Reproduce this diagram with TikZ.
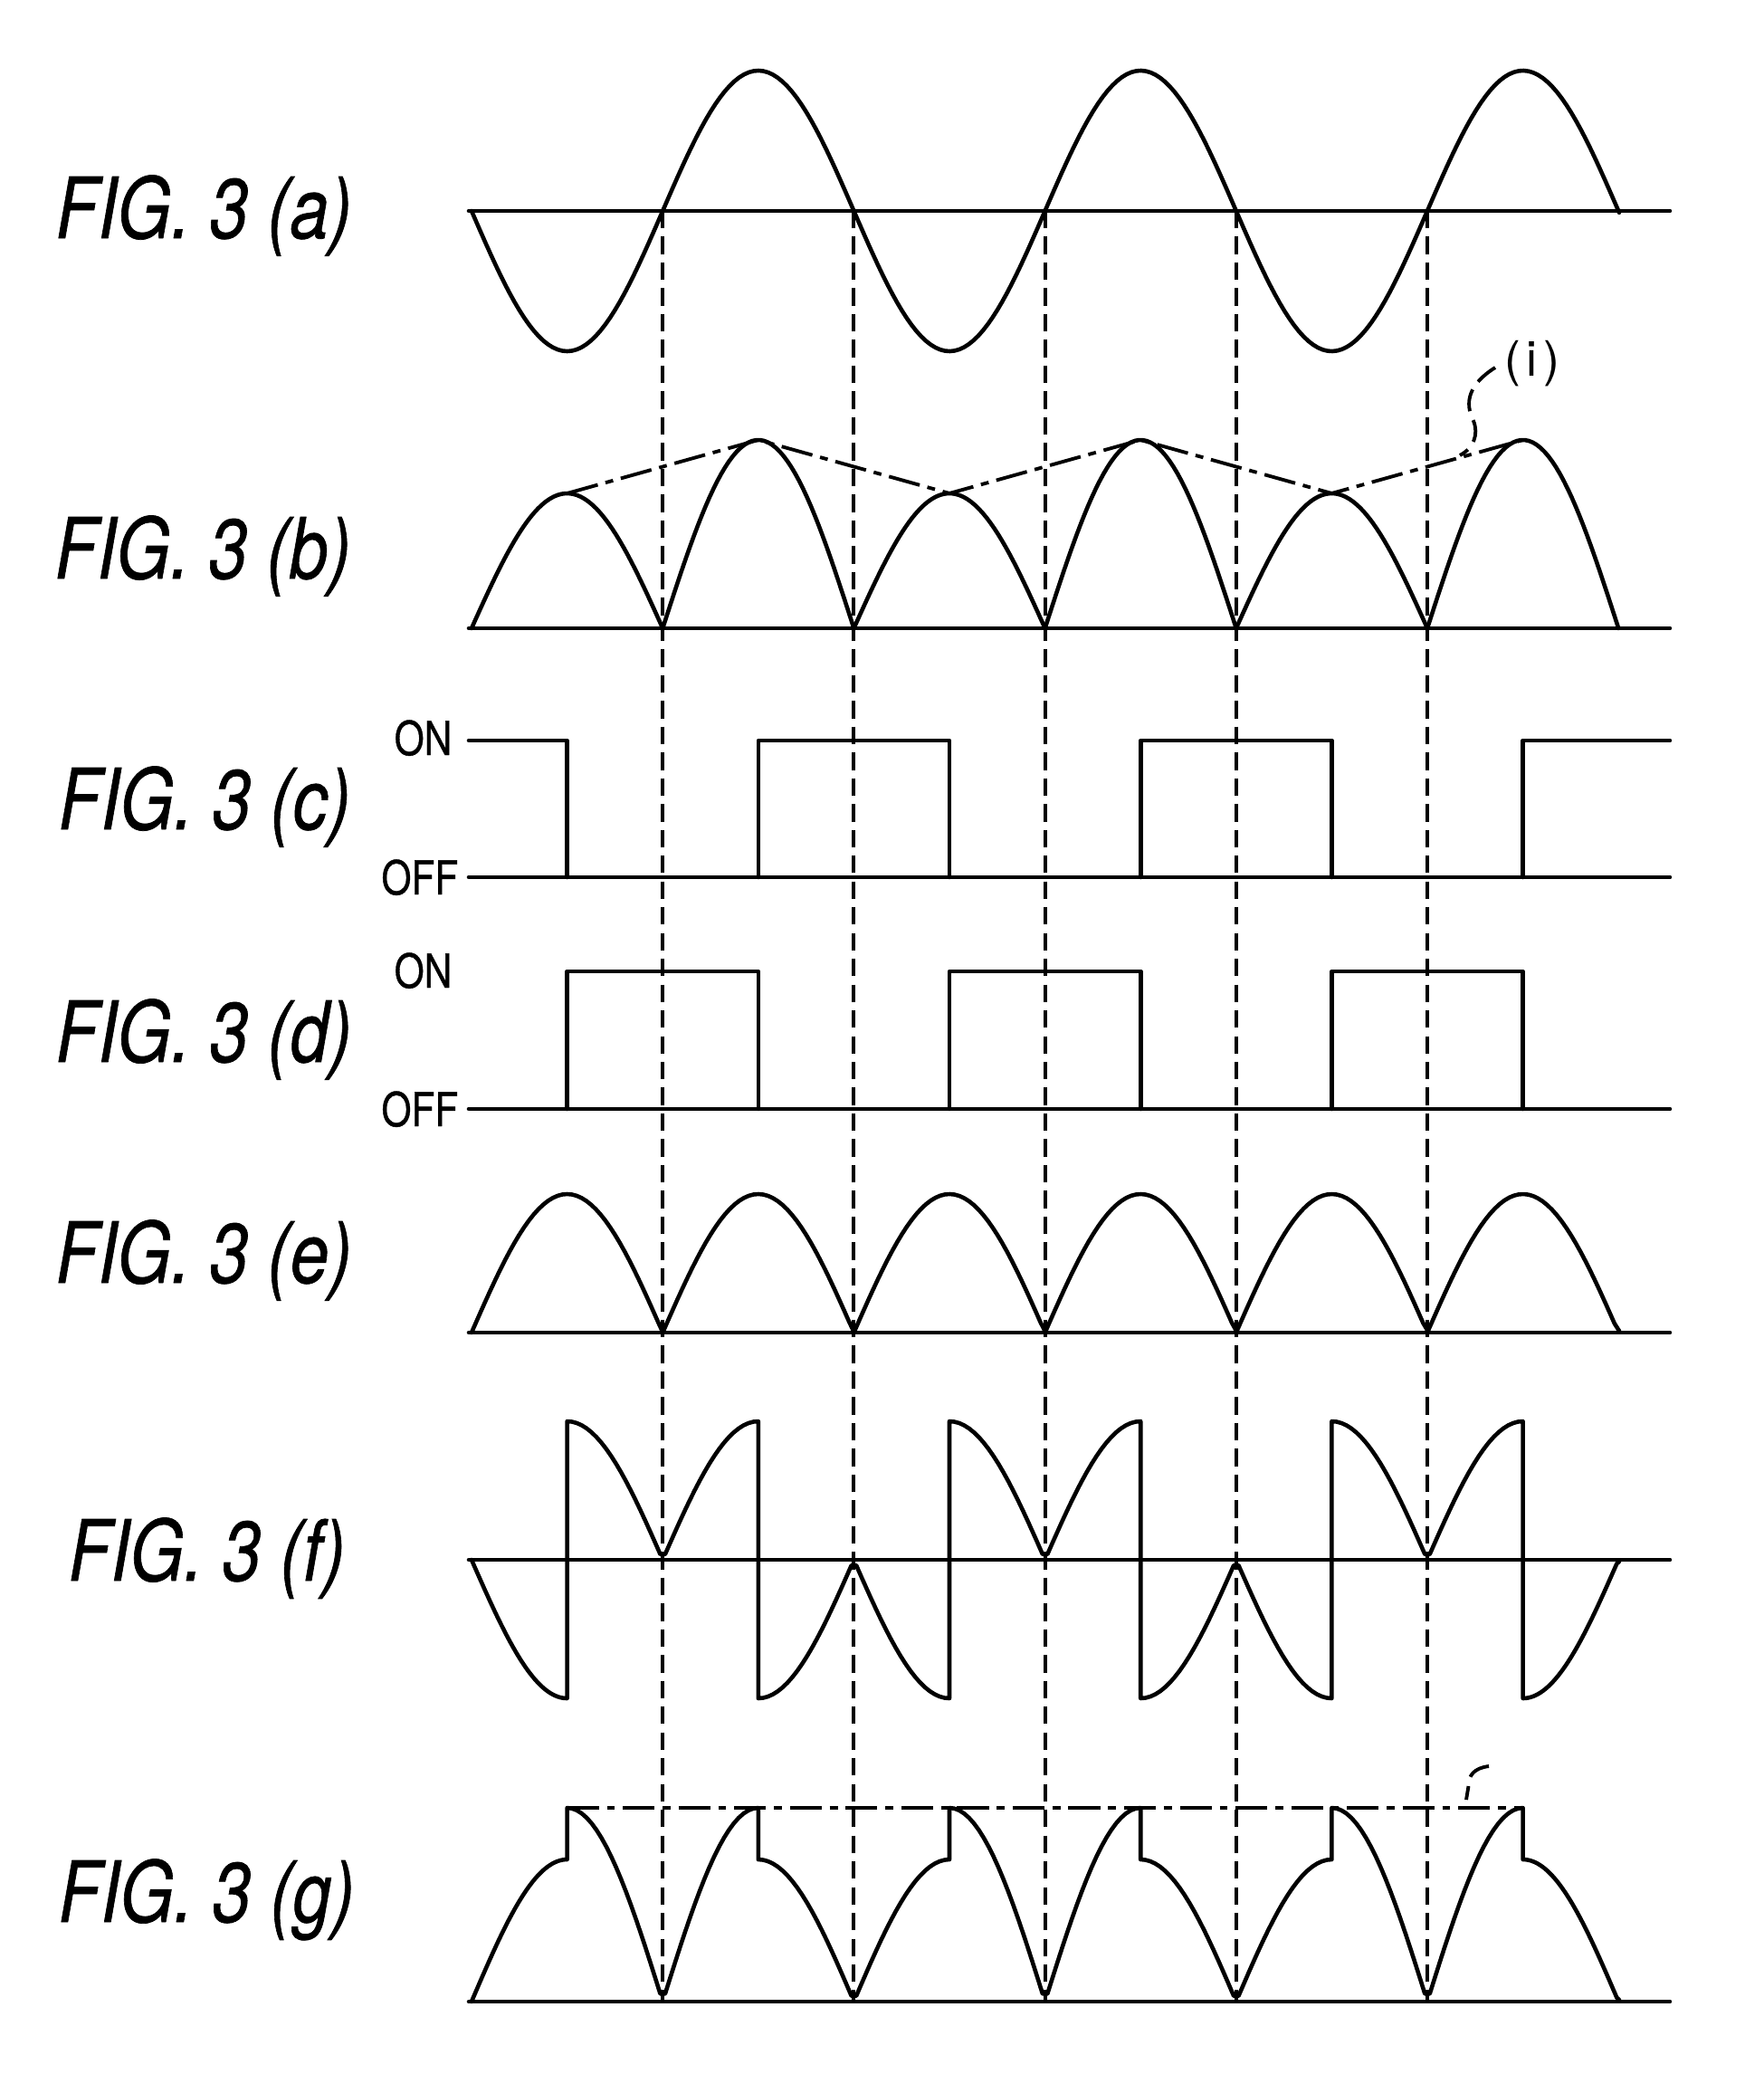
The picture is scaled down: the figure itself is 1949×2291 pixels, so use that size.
\documentclass[tikz,border=0pt]{standalone}
\usepackage{fontspec}
\setmainfont{TeX Gyre Heros}
\newfontfamily\lblfont{TeX Gyre Heros}[FakeBold=0.8]
\usepackage{graphicx}
\newcommand{\figlabel}[1]{\fontsize{26.5}{30}\lblfont\itshape\scalebox{0.82}[1]{FIG. 3 (#1)}}
\newcommand{\swlabel}[1]{\fontsize{14.7}{17}\lblfont\scalebox{0.82}[1]{#1}}

\begin{document}
\begin{tikzpicture}[x=0.01cm, y=-0.01cm,
  wave/.style={line width=1.3pt, line join=round, line cap=round},
  guide/.style={line width=1.1pt, dash pattern=on 5.5pt off 2.6pt},
  envelope/.style={line width=1.1pt, dash pattern=on 10pt off 2.5pt on 2.5pt off 2.5pt},
  leader/.style={line width=1.1pt, dash pattern=on 7pt off 3pt},
  lbl/.style={anchor=base west, inner sep=0pt},
  sw/.style={anchor=base east, inner sep=0pt}]

\useasboundingbox (0,0) rectangle (1949,2291);

% figure labels
\node[lbl] (figA) at (61,263) {\figlabel{a}};
\node[lbl] (figB) at (60,639) {\figlabel{b}};
\node[lbl] (figC) at (64,916) {\figlabel{c}};
\node[lbl] (figD) at (61,1173) {\figlabel{d}};
\node[lbl] (figE) at (61,1417) {\figlabel{e}};
\node[lbl] (figF) at (75,1746) {\figlabel{f}};
\node[lbl] (figG) at (64,2123) {\figlabel{g}};

\node[sw] (onC) at (500,834) {\swlabel{ON}};
\node[sw] (offC) at (507,988) {\swlabel{OFF}};
\node[sw] (onD) at (500,1091) {\swlabel{ON}};
\node[sw] (offD) at (507,1244) {\swlabel{OFF}};

% (a) source voltage, 0.852273 = 180/211.2
\draw[wave] (518,233) -- (1845,233);
\draw[wave] plot[domain=521:1789, samples=241] (\x,{233+155*sin((\x-521)*0.852273)});

% (b) rectified, alternating heights
\draw[wave] (518,694) -- (1845,694);
\foreach \k/\amp in {0/149,1/208,2/149,3/208,4/149,5/208}{
  \pgfmathsetmacro\xa{521+\k*211.2}
  \pgfmathsetmacro\xb{\xa+211.2}
  \draw[wave] plot[domain=\xa:\xb, samples=50] (\x,{694-\amp*sin((\x-\xa)*0.852273)});
  \coordinate (pk\k) at (\xa+105.6,694-\amp);
}
\draw[envelope] (pk0) -- (pk1) -- (pk2) -- (pk3) -- (pk4) -- (pk5);
\node[font=\fontsize{15.3}{18}\selectfont, inner sep=0pt] (labI) at (1693,402) {(\hspace{0.12em}i\hspace{0.12em})};
\coordinate (endI) at (1613,503);
\draw[leader] (1652,406) .. controls (1622,425) and (1618,445) .. (1628,465) .. controls (1634,480) and (1628,495) .. (endI);

% (c) switch 1
\draw[wave] (518,969) -- (1845,969);
\draw[wave] (518,818) -- (626.6,818) -- (626.6,969)
  (837.8,969) -- (837.8,818) -- (1049,818) -- (1049,969)
  (1260.2,969) -- (1260.2,818) -- (1471.4,818) -- (1471.4,969)
  (1682.6,969) -- (1682.6,818) -- (1845,818);

% (d) switch 2
\draw[wave] (518,1225) -- (1845,1225);
\draw[wave] (626.6,1225) -- (626.6,1073) -- (837.8,1073) -- (837.8,1225)
  (1049,1225) -- (1049,1073) -- (1260.2,1073) -- (1260.2,1225)
  (1471.4,1225) -- (1471.4,1073) -- (1682.6,1073) -- (1682.6,1225);

% (e) full wave
\draw[wave] (518,1472) -- (1845,1472);
\draw[wave] plot[domain=521:1789, samples=241] (\x,{1472-153*abs(sin((\x-521)*0.852273))});

% (f) switched
\draw[wave] (518,1723) -- (1845,1723);
\draw[wave] (521,1723) foreach \xa/\xb/\sg in {521/626.6/-1, 626.6/837.8/1, 837.8/1049/-1, 1049/1260.2/1, 1260.2/1471.4/-1, 1471.4/1682.6/1, 1682.6/1789/-1}{
  -- plot[domain=\xa:\xb, samples=40] (\x,{1723-(\sg)*153*abs(sin((\x-521)*0.852273))}) };

% (g) output
\draw[wave] (518,2211) -- (1845,2211);
\draw[wave] (521,2211) foreach \xa/\xb/\amp in {521/626.6/157, 626.6/837.8/214, 837.8/1049/157, 1049/1260.2/214, 1260.2/1471.4/157, 1471.4/1682.6/214, 1682.6/1789/157}{
  -- plot[domain=\xa:\xb, samples=40] (\x,{2211-\amp*abs(sin((\x-521)*0.852273))}) };
\coordinate (topL) at (626.6,1997);
\coordinate (topR) at (1682.6,1997);
\draw[envelope] (topL) -- (topR);
\coordinate (endG) at (1620,1988);
\draw[leader] (1645,1951) .. controls (1628,1953) and (1623,1962) .. (1623,1970) -- (endG);

% zero crossings
\foreach \k in {1,...,5}
  \draw[guide] ({521+\k*211.2},233) -- ({521+\k*211.2},2211);
\end{tikzpicture}
\end{document}
